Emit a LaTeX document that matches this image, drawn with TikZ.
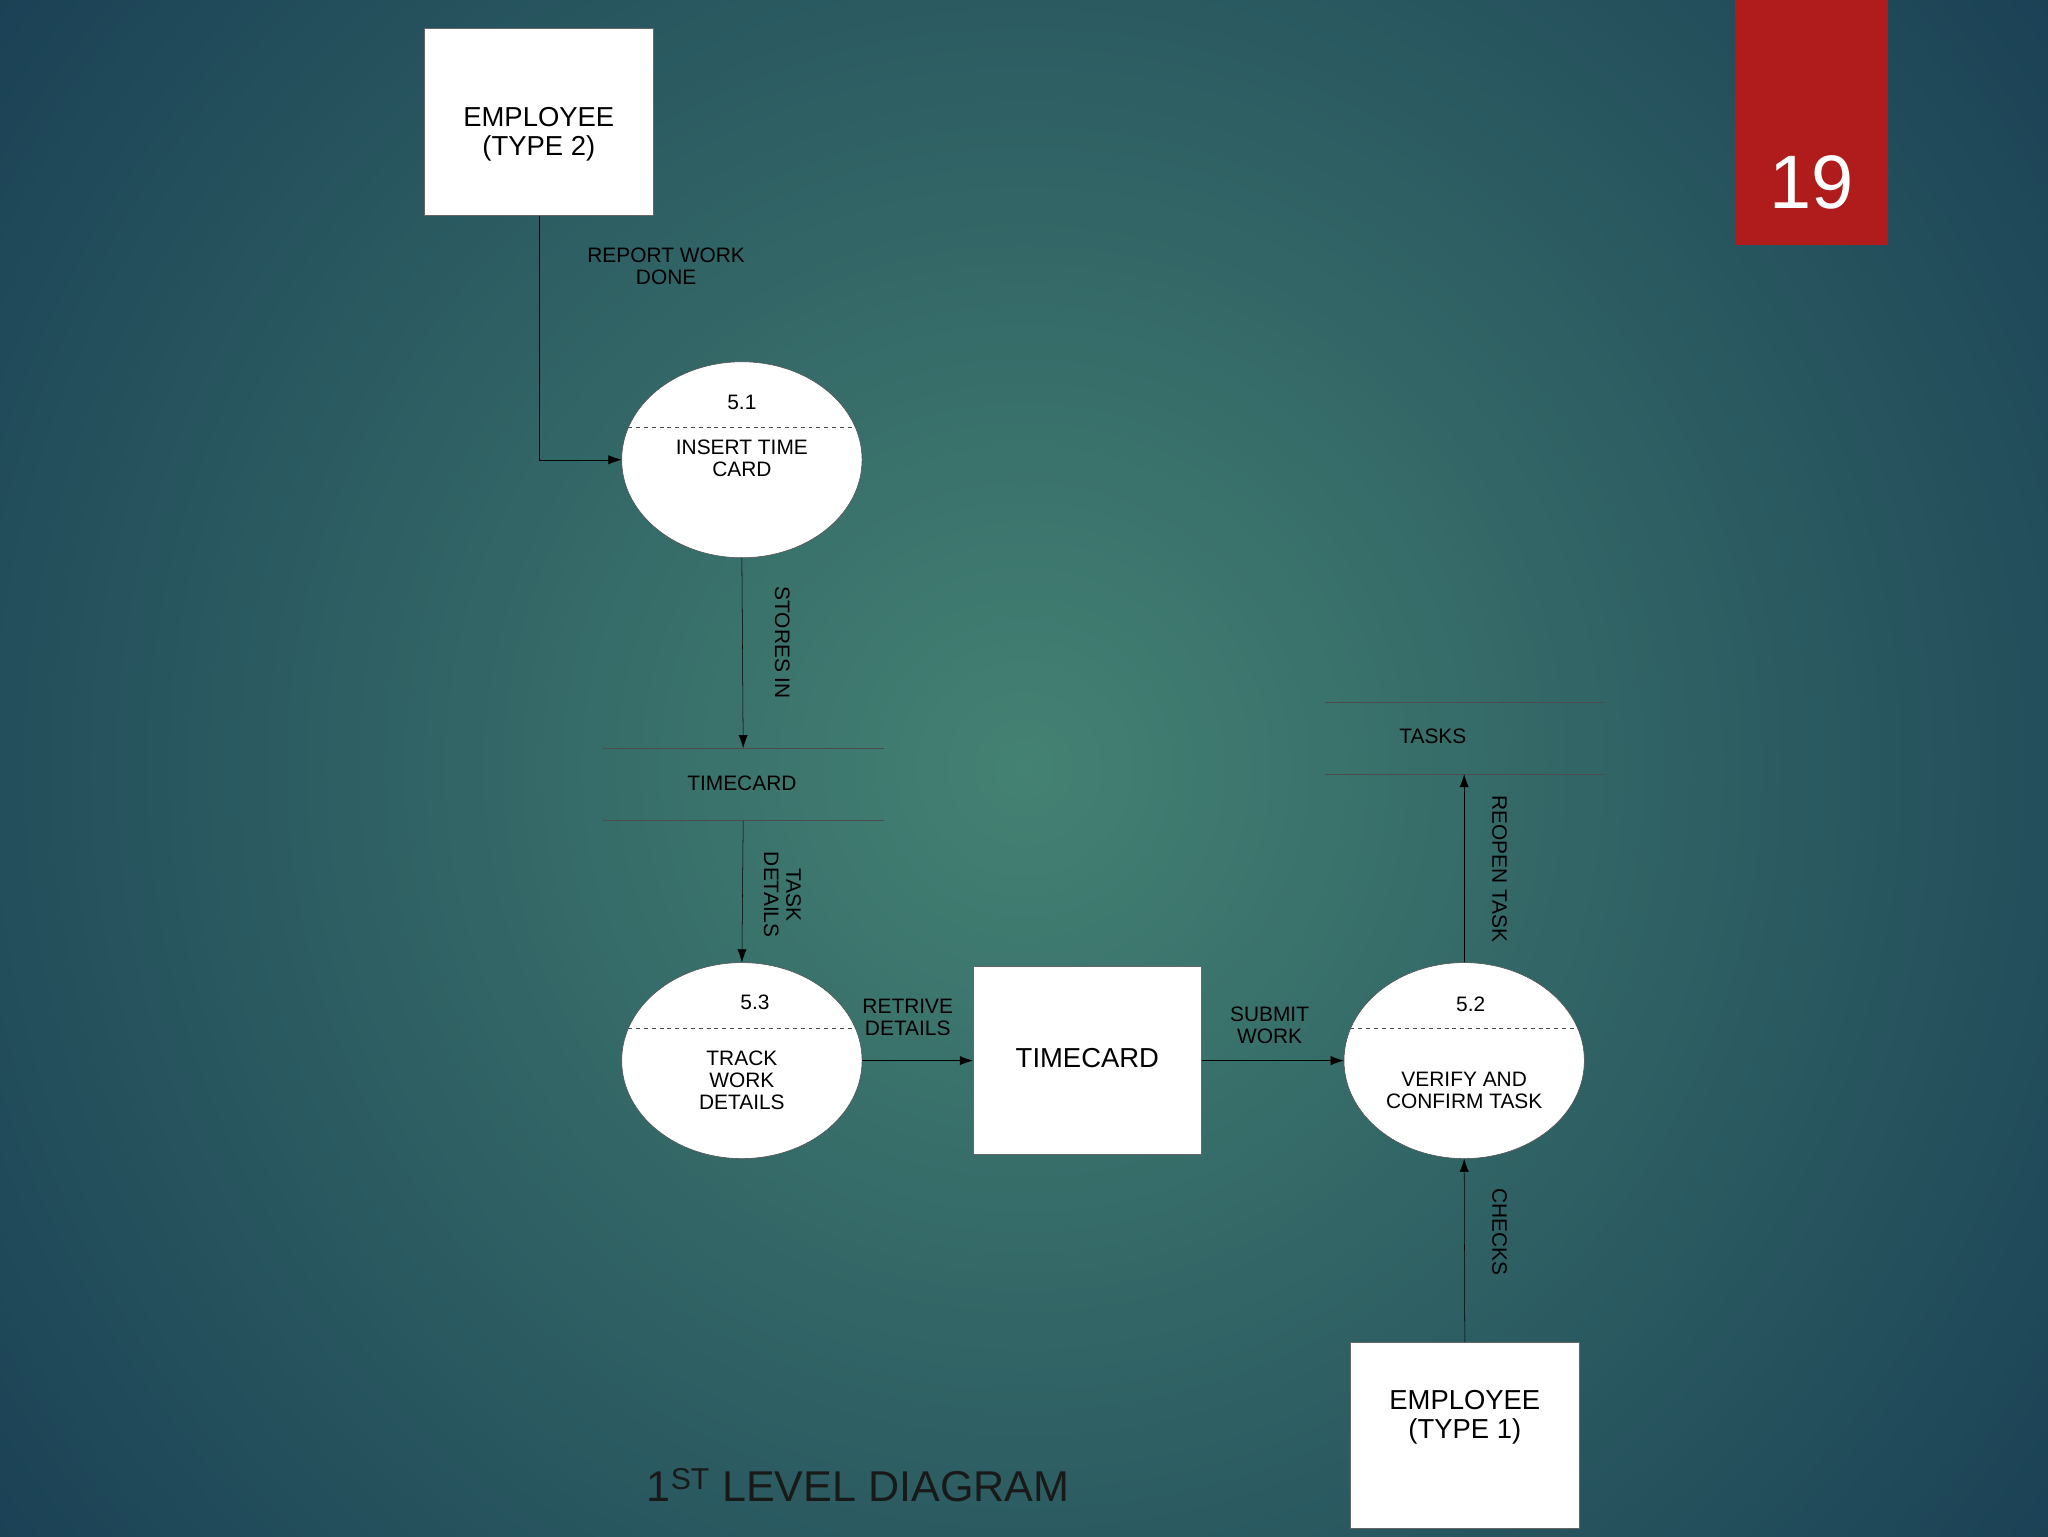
\documentclass[tikz,border=0pt]{standalone}
\usepackage{fontspec}
\setmainfont{Liberation Sans}
\usetikzlibrary{shapes.geometric,calc,arrows.meta}
\begin{document}
\begin{tikzpicture}[x=1pt,y=-1pt,
  ent/.style={draw=black!60,fill=white,minimum width=175pt,minimum height=143pt},
  etxt/.style={align=center,font=\fontsize{21}{22}\selectfont,inner sep=0pt},
  proc/.style={draw=black!70,fill=white,ellipse,minimum width=184pt,minimum height=150pt,inner sep=0pt},
  store/.style={minimum width=215pt,minimum height=55pt},
  lbl/.style={align=center,font=\fontsize{16}{17}\selectfont,inner sep=0pt},
  flow/.style={draw=black,-{Latex[length=10pt,width=7pt]}}]
\useasboundingbox (0,0) rectangle (1568,1176);
\shade[inner color={rgb,255:red,68;green,130;blue,115},outer color={rgb,255:red,22;green,58;blue,82}] (-300,-500) rectangle (1868,1676);
% page number
\node[fill={rgb,255:red,176;green,28;blue,28},minimum width=117pt,minimum height=187pt,anchor=north west,inner sep=0pt] (pg) at (1328,0) {};
\node[text=white,font=\fontsize{58}{58}\selectfont] (pgn) at (1387,140) {19};
% entities
\node[ent] (emp2) at (412.5,93.5) {};
\node[etxt] at (412.5,103) {EMPLOYEE\\(TYPE 2)};
\node[ent,minimum height=144pt] (tc) at (832.5,812) {};
\node[etxt] at (832.5,810) {TIMECARD};
\node[ent,minimum height=142pt] (emp1) at (1121.5,1099) {};
\node[etxt] at (1121.5,1085) {EMPLOYEE\\(TYPE 1)};
% processes
\node[proc] (p1) at (568,352) {};
\node[proc] (p3) at (568,812) {};
\node[proc] (p2) at (1121,812) {};
\foreach \p in {p1,p3,p2}{\draw[dashed,black!70] ($(\p.center)+(-87,-25)$) -- ($(\p.center)+(87,-25)$);}
\node[lbl] at (568,308) {5.1};
\node[lbl] at (568,351) {INSERT TIME\\CARD};
\node[lbl] at (578,767) {5.3};
\node[lbl] at (568,827) {TRACK\\WORK\\DETAILS};
\node[lbl] at (1126,769) {5.2};
\node[lbl] at (1121,835) {VERIFY AND\\CONFIRM TASK};
% stores
\node[store] (s1) at (569,600.5) {};
\node[lbl] at (568,600) {TIMECARD};
\node[store] (s2) at (1122,565) {};
\node[lbl] at (1097,564) {TASKS};
\foreach \s in {s1,s2}{\draw[black!70] (\s.north west) -- (\s.north east) (\s.south west) -- (\s.south east);}
% flows
\draw[flow] (emp2.south) |- (p1.west);
\node[lbl] at (510,204) {REPORT WORK\\DONE};
\draw[flow] (p1.south) -- (s1.north);
\node[lbl,rotate=-90] at (599,492) {STORES IN};
\draw[flow] (s1.south) -- (p3.north);
\node[lbl,rotate=-90] at (599,685) {TASK\\DETAILS};
\draw[flow] (p3.east) -- (tc.west);
\node[lbl] at (695,779) {RETRIVE\\DETAILS};
\draw[flow] (tc.east) -- (p2.west);
\node[lbl] at (972,785) {SUBMIT\\WORK};
\draw[flow] (p2.north) -- (p2.north |- s2.south);
\node[lbl,rotate=-90] at (1148,665) {REOPEN TASK};
\draw[flow] (emp1.north) -- (p2.south);
\node[lbl,rotate=-90] at (1148,943) {CHECKS};
% title
\node[font=\fontsize{33}{33}\selectfont,text=black!90] (title) at (657,1137) {1\textsuperscript{ST} LEVEL DIAGRAM};
\end{tikzpicture}
\end{document}
